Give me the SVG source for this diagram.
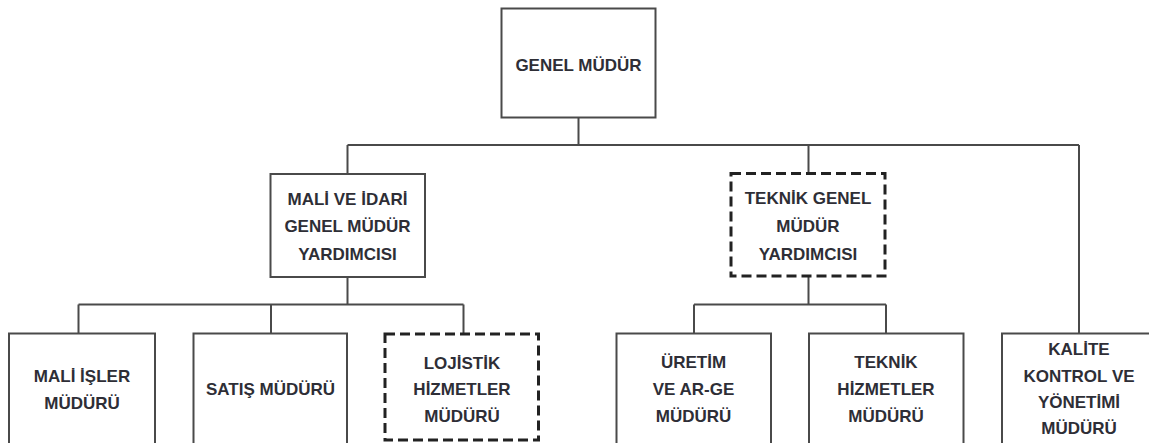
<svg xmlns="http://www.w3.org/2000/svg" width="1149" height="443" viewBox="0 0 1149 443">
<style>
.box{fill:#fff;stroke:#4a4a4a;stroke-width:2}
.dbox{fill:#fff;stroke:#222;stroke-width:3;stroke-dasharray:10 5}
.ln{fill:none;stroke:#4a4a4a;stroke-width:2}
text{font-family:"Liberation Sans",Arial,sans-serif;font-weight:bold;font-size:17px;fill:#2e2e36;text-anchor:middle}
</style>
<rect width="1149" height="443" fill="#fff"/>
<g id="connectors">
<path class="ln" d="M578.5 117.5V145M347.5 145H1079M347.5 145V174M808.5 145V173.5M1079 145V333.5"/>
<path class="ln" d="M347.5 277V304.5M78.5 304.5H463.5M78.5 304.5V333.5M271 304.5V333.5M463.5 304.5V334"/>
<path class="ln" d="M808.5 276V304.5M694 304.5H886M694 304.5V333.5M886 304.5V333.5"/>
</g>
<g id="genel-mudur">
<rect class="box" x="501.5" y="8.5" width="154" height="109"/>
<text x="578.5" y="70.5">GENEL MÜDÜR</text>
</g>
<g id="mali-idari-gmy">
<rect class="box" x="270.5" y="174" width="154.5" height="103"/>
<text x="347.5" y="204.5">MALİ VE İDARİ</text>
<text x="347.5" y="232">GENEL MÜDÜR</text>
<text x="347.5" y="259.5">YARDIMCISI</text>
</g>
<g id="teknik-gmy">
<rect class="dbox" x="731" y="173.5" width="154" height="102.5"/>
<text x="808" y="203.5">TEKNİK GENEL</text>
<text x="808" y="231.5">MÜDÜR</text>
<text x="808" y="259.5">YARDIMCISI</text>
</g>
<g id="mali-isler">
<rect class="box" x="9" y="333.5" width="146" height="120"/>
<text x="82" y="381.5">MALİ İŞLER</text>
<text x="82" y="408.5">MÜDÜRÜ</text>
</g>
<g id="satis">
<rect class="box" x="193.5" y="333.5" width="153.5" height="120"/>
<text x="270.5" y="395">SATIŞ MÜDÜRÜ</text>
</g>
<g id="lojistik">
<rect class="dbox" x="385" y="334" width="153.5" height="106"/>
<text x="462" y="368.5">LOJİSTİK</text>
<text x="462" y="395">HİZMETLER</text>
<text x="462" y="421.5">MÜDÜRÜ</text>
</g>
<g id="uretim">
<rect class="box" x="616.5" y="333.5" width="154.5" height="120"/>
<text x="693.5" y="367.5">ÜRETİM</text>
<text x="693.5" y="395">VE AR-GE</text>
<text x="693.5" y="421.5">MÜDÜRÜ</text>
</g>
<g id="teknik-hizmetler">
<rect class="box" x="809" y="333.5" width="154.5" height="120"/>
<text x="886" y="367.5">TEKNİK</text>
<text x="886" y="395">HİZMETLER</text>
<text x="886" y="421.5">MÜDÜRÜ</text>
</g>
<g id="kalite">
<rect class="box" x="1002" y="333.5" width="160" height="120"/>
<text x="1079" y="355">KALİTE</text>
<text x="1079" y="381.5">KONTROL VE</text>
<text x="1079" y="407.5">YÖNETİMİ</text>
<text x="1079" y="434">MÜDÜRÜ</text>
</g>
</svg>
